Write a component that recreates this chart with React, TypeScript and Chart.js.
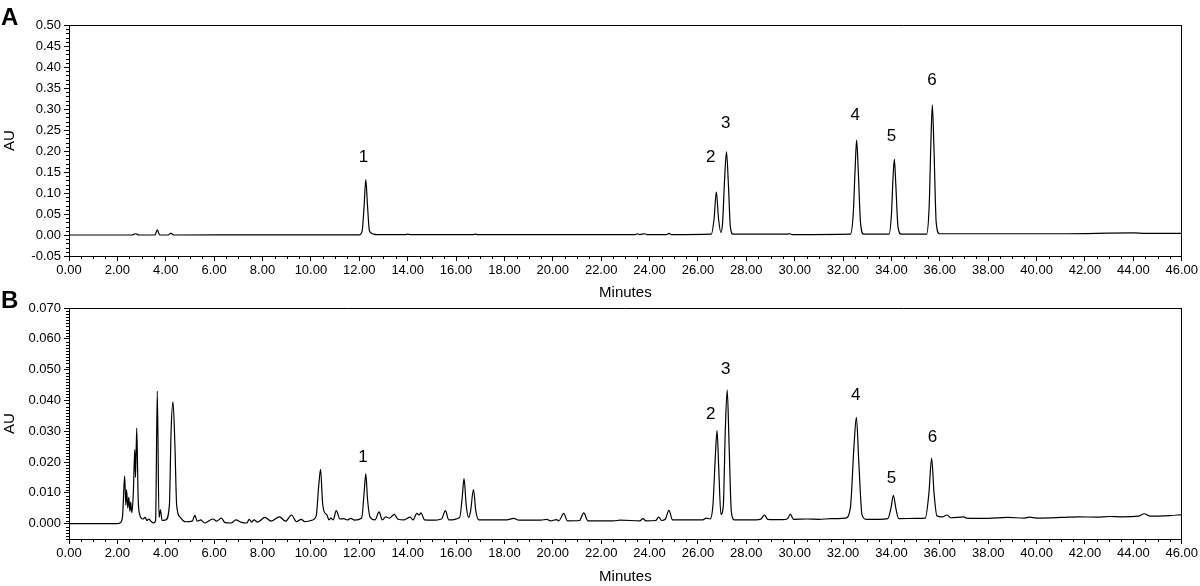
import React, { useEffect, useRef } from "react";
import { Chart, registerables } from "chart.js";

Chart.register(...registerables);

const FONT = "'Liberation Sans', Arial, Helvetica, sans-serif";

// ---- axis ticks ----
const xTickValues = [0, 2, 4, 6, 8, 10, 12, 14, 16, 18, 20, 22, 24, 26, 28, 30, 32, 34, 36, 38, 40, 42, 44, 46];
const yTicksA = [-0.05, 0, 0.05, 0.1, 0.15, 0.2, 0.25, 0.3, 0.35, 0.4, 0.45, 0.5];
const yTicksB = [0, 0.01, 0.02, 0.03, 0.04, 0.05, 0.06, 0.07];

// ---- chromatogram A (standards) ----
const timesA = [
  0, 2.6, 2.75, 2.9, 3.55, 3.65, 3.75, 4.1, 4.2, 4.35, 8, 12.0, 12.12, 12.2, 12.27, 12.34, 12.42, 12.55, 12.7,
  13.9, 14.0, 14.1, 16.7, 16.8, 16.9, 23.4, 23.5, 23.6, 23.8, 23.9, 24.7, 24.8, 24.9,
  26.55, 26.67, 26.76, 26.85, 26.95, 27.02, 27.1, 27.18, 27.26, 27.34, 27.45, 28.8, 29.7, 29.8, 29.9,
  32.3, 32.42, 32.5, 32.56, 32.63, 32.72, 32.85, 33.9, 34.0, 34.06, 34.12, 34.18, 34.27, 34.4,
  35.45, 35.56, 35.63, 35.69, 35.76, 35.85, 35.98, 40.5, 41, 44, 44.5, 46,
];
const auA = [
  0, 0, 0.003, 0, 0, 0.012, 0, 0, 0.004, 0, 0.0005, 0.0005, 0.01, 0.07, 0.132, 0.07, 0.01, 0.003, 0.001,
  0.001, 0.002, 0.001, 0.001, 0.002, 0.001, 0.001, 0.003, 0.001, 0.003, 0.001, 0.001, 0.004, 0.001,
  0.002, 0.04, 0.103, 0.04, 0.006, 0.03, 0.13, 0.198, 0.12, 0.02, 0.002, 0.002, 0.002, 0.003, 0.001,
  0.002, 0.05, 0.16, 0.226, 0.15, 0.03, 0.002, 0.002, 0.05, 0.13, 0.18, 0.12, 0.02, 0.002,
  0.002, 0.07, 0.22, 0.31, 0.2, 0.03, 0.003, 0.003, 0.003, 0.005, 0.004, 0.004,
];

// ---- chromatogram B (sample) ----
const timesB = [
  0, 2.0, 2.15, 2.22, 2.3, 2.35, 2.38, 2.43, 2.47, 2.52, 2.55, 2.6, 2.66, 2.72, 2.75, 2.8, 2.86, 2.92,
  3.05, 3.15, 3.22, 3.3, 3.38, 3.5, 3.58, 3.65, 3.72, 3.78, 3.85, 4.0, 4.15, 4.22, 4.3, 4.38, 4.45, 4.6, 4.8,
  5.1, 5.2, 5.3, 5.45, 5.6, 5.95, 6.1, 6.3, 6.45, 6.7, 6.9, 7.1, 7.35, 7.45, 7.55, 7.65, 7.8, 8.1, 8.35,
  8.7, 8.95, 9.2, 9.4, 9.6, 9.75, 10.0, 10.22, 10.32, 10.4, 10.48, 10.55, 10.65, 10.75, 10.82, 10.92,
  11.05, 11.2, 11.35, 11.5, 11.65, 11.8, 12.1, 12.2, 12.27, 12.34, 12.45, 12.65, 12.82, 12.95, 13.1,
  13.25, 13.45, 13.6, 13.85, 14.1, 14.22, 14.38, 14.48, 14.55, 14.7, 15.0, 15.4, 15.56, 15.7, 16.15,
  16.25, 16.33, 16.42, 16.52, 16.6, 16.72, 16.82, 16.95, 17.5, 18.1, 18.38, 18.6, 19.5, 19.75, 19.9,
  20.15, 20.25, 20.45, 20.6, 21.1, 21.28, 21.45, 22.5, 22.8, 23.6, 23.72, 23.85, 24.25, 24.38, 24.5,
  24.65, 24.8, 24.95, 26.2, 26.34, 26.5, 26.62, 26.72, 26.79, 26.86, 26.95, 27.05, 27.13, 27.21, 27.29,
  27.38, 27.5, 28.0, 28.5, 28.62, 28.75, 28.88, 29.5, 29.7, 29.82, 29.95, 30.5, 31.0, 31.5, 32.1, 32.3,
  32.45, 32.55, 32.65, 32.78, 32.95, 33.5, 33.85, 33.98, 34.08, 34.18, 34.3, 35.0, 35.4, 35.55, 35.66,
  35.76, 35.88, 36.1, 36.3, 36.45, 37.0, 37.1, 38.0, 38.8, 39.5, 39.7, 40.0, 41.0, 41.3, 41.7, 42.5,
  43.0, 43.5, 44.2, 44.45, 44.7, 45.5, 46.0,
];
const auB = [
  0, 0, 0.0005, 0.003, 0.0155, 0.006, 0.011, 0.005, 0.0085, 0.004, 0.007, 0.0035, 0.01, 0.024, 0.015, 0.031, 0.008, 0.003,
  0.0015, 0.002, 0.001, 0.0015, 0.0008, 0.0002, 0.001, 0.043, 0.002, 0.0045, 0.001, 0.0012, 0.006, 0.03, 0.0395, 0.025, 0.006, 0.002, 0.0006,
  0.0008, 0.0027, 0.0008, 0.0012, 0.0002, 0.0015, 0.0008, 0.0018, 0.0003, 0.0002, 0.0012, 0.0005, 0.0002, 0.0014, 0.0005, 0.0012, 0.0005, 0.002, 0.0008,
  0.0022, 0.0008, 0.0028, 0.0006, 0.0014, 0.0006, 0.001, 0.0025, 0.012, 0.0176, 0.007, 0.0038, 0.003, 0.0012, 0.0018, 0.0012,
  0.0042, 0.0015, 0.0016, 0.0012, 0.0017, 0.0011, 0.0018, 0.01, 0.0162, 0.008, 0.002, 0.0012, 0.0038, 0.0012, 0.0022,
  0.0018, 0.003, 0.0014, 0.0012, 0.0021, 0.0012, 0.0033, 0.0028, 0.0035, 0.0012, 0.0011, 0.0015, 0.0042, 0.0012, 0.002,
  0.008, 0.0146, 0.006, 0.002, 0.004, 0.011, 0.004, 0.0012, 0.0012, 0.0012, 0.0017, 0.0011, 0.0011, 0.0014, 0.0009,
  0.0013, 0.0009, 0.0033, 0.0009, 0.001, 0.0035, 0.0009, 0.0009, 0.0011, 0.0009, 0.0016, 0.0009, 0.001, 0.0021, 0.001,
  0.0014, 0.0043, 0.0012, 0.0012, 0.0018, 0.0015, 0.006, 0.022, 0.0302, 0.018, 0.003, 0.006, 0.03, 0.0434, 0.025,
  0.004, 0.0012, 0.0012, 0.0013, 0.0016, 0.0028, 0.0014, 0.0013, 0.0016, 0.0031, 0.0014, 0.0015, 0.0014, 0.0016, 0.0018, 0.005,
  0.025, 0.0345, 0.02, 0.003, 0.0014, 0.0014, 0.0016, 0.005, 0.0092, 0.005, 0.0016, 0.0017, 0.0018, 0.01, 0.0213,
  0.01, 0.0025, 0.0022, 0.0028, 0.0019, 0.0022, 0.0018, 0.0017, 0.002, 0.0018, 0.0021, 0.0018, 0.002, 0.0021, 0.0022, 0.0021,
  0.0023, 0.0022, 0.0024, 0.0032, 0.0024, 0.0026, 0.0029,
];

// ---- peak annotations ----
const peakIds = ["1", "2", "3", "4", "5", "6"];
const peakLabelXA = [12.17, 26.53, 27.15, 32.5, 34.0, 35.68];
const peakLabelYA = [0.186, 0.184, 0.267, 0.284, 0.234, 0.369];
const peakLabelXB = [12.15, 26.53, 27.15, 32.52, 34.0, 35.7];
const peakLabelYB = [0.0216, 0.0356, 0.05, 0.0415, 0.0148, 0.0281];

type PanelCfg = {
  letter: string;
  letterY: number;
  times: number[];
  values: number[];
  yTicks: number[];
  yMin: number;
  yMax: number;
  yMinorStep: number;
  yDecimals: number;
  labelX: number[];
  labelY: number[];
  padTop: number;
  xAxisHeight: number;
  titlePadBottom: number;
};

function decorPlugin(cfg: PanelCfg) {
  return {
    id: "decor" + cfg.letter,
    afterDraw(chart: any) {
      const ctx = chart.ctx as CanvasRenderingContext2D;
      const { left, right, top, bottom } = chart.chartArea;
      const xs = chart.scales.x;
      const ys = chart.scales.y;
      ctx.save();
      ctx.strokeStyle = "#000";
      ctx.lineWidth = 1;
      ctx.beginPath();
      // frame top and right
      ctx.moveTo(left, Math.round(top) + 0.5);
      ctx.lineTo(right, Math.round(top) + 0.5);
      ctx.moveTo(Math.round(right) - 0.5, top);
      ctx.lineTo(Math.round(right) - 0.5, bottom);
      // minor x ticks every 0.5 min
      for (let i = 0; i <= 92; i++) {
        const v = i * 0.5;
        if (i % 4 === 0) continue;
        const px = Math.round(xs.getPixelForValue(v)) + 0.5;
        ctx.moveTo(px, bottom);
        ctx.lineTo(px, bottom + 3);
      }
      // minor y ticks
      const n = Math.round((cfg.yMax - cfg.yMin) / cfg.yMinorStep);
      for (let i = 0; i <= n; i++) {
        const v = cfg.yMin + i * cfg.yMinorStep;
        const isMajor = cfg.yTicks.some((t) => Math.abs(t - v) < cfg.yMinorStep / 10);
        if (isMajor) continue;
        const py = Math.round(ys.getPixelForValue(v)) + 0.5;
        ctx.moveTo(left - 3, py);
        ctx.lineTo(left, py);
      }
      ctx.stroke();

      // peak numbers
      ctx.fillStyle = "#000";
      ctx.font = `17px ${FONT}`;
      ctx.textAlign = "center";
      ctx.textBaseline = "middle";
      peakIds.forEach((id, i) => {
        ctx.fillText(id, xs.getPixelForValue(cfg.labelX[i]), ys.getPixelForValue(cfg.labelY[i]));
      });

      // panel letter
      ctx.font = `bold 24px ${FONT}`;
      ctx.textAlign = "left";
      ctx.textBaseline = "alphabetic";
      ctx.fillText(cfg.letter, 1, cfg.letterY);
      ctx.restore();
    },
  };
}

function Panel({ cfg, top, height }: { cfg: PanelCfg; top: number; height: number }) {
  const ref = useRef<HTMLCanvasElement | null>(null);
  useEffect(() => {
    if (!ref.current) return;
    const data = cfg.times.map((t, i) => ({ x: t, y: cfg.values[i] }));
    const chart = new Chart(ref.current, {
      type: "line",
      data: {
        datasets: [
          {
            data,
            borderColor: "#000",
            borderWidth: 1.2,
            pointRadius: 0,
            cubicInterpolationMode: "monotone",
            fill: false,
          },
        ],
      },
      options: {
        responsive: false,
        animation: false,
        maintainAspectRatio: false,
        layout: { padding: { left: 0, right: 16, top: cfg.padTop, bottom: 0 } },
        plugins: { legend: { display: false }, tooltip: { enabled: false } },
        scales: {
          x: {
            type: "linear",
            min: 0,
            max: 46,
            afterFit: (s: any) => {
              s.height = cfg.xAxisHeight;
            },
            afterBuildTicks: (s: any) => {
              s.ticks = xTickValues.map((v) => ({ value: v }));
            },
            grid: { drawOnChartArea: false, drawTicks: true, tickLength: 5, color: "#000" },
            border: { display: true, color: "#000", width: 1 },
            ticks: {
              callback: (v: any) => Number(v).toFixed(2),
              font: { family: FONT, size: 13 },
              color: "#000",
              padding: 2,
              maxRotation: 0,
              autoSkip: false,
            },
            title: {
              display: true,
              text: "Minutes",
              color: "#000",
              font: { family: FONT, size: 15, lineHeight: 1 },
              padding: { top: 0, bottom: cfg.titlePadBottom },
            },
          },
          y: {
            type: "linear",
            min: cfg.yMin,
            max: cfg.yMax,
            afterFit: (s: any) => {
              s.width = 69;
            },
            afterBuildTicks: (s: any) => {
              s.ticks = cfg.yTicks.map((v) => ({ value: v }));
            },
            grid: { drawOnChartArea: false, drawTicks: true, tickLength: 5, color: "#000" },
            border: { display: true, color: "#000", width: 1 },
            ticks: {
              callback: (v: any) => Number(v).toFixed(cfg.yDecimals),
              font: { family: FONT, size: 13 },
              color: "#000",
              padding: 3,
              autoSkip: false,
            },
            title: {
              display: true,
              text: "AU",
              color: "#000",
              font: { family: FONT, size: 15, lineHeight: 1 },
              padding: { top: 2, bottom: 0 },
            },
          },
        },
      } as any,
      plugins: [decorPlugin(cfg)],
    });
    return () => chart.destroy();
  }, [cfg]);
  return (
    <canvas
      ref={ref}
      width={1200}
      height={height}
      style={{ position: "absolute", left: 0, top, width: 1200, height }}
    />
  );
}

const cfgA: PanelCfg = {
  letter: "A",
  letterY: 25,
  times: timesA,
  values: auA,
  yTicks: yTicksA,
  yMin: -0.05,
  yMax: 0.5,
  yMinorStep: 0.01,
  yDecimals: 2,
  labelX: peakLabelXA,
  labelY: peakLabelYA,
  padTop: 25,
  xAxisHeight: 44,
  titlePadBottom: 0,
};

const cfgB: PanelCfg = {
  letter: "B",
  letterY: 28,
  times: timesB,
  values: auB,
  yTicks: yTicksB,
  yMin: -0.005,
  yMax: 0.07,
  yMinorStep: 0.001,
  yDecimals: 3,
  labelX: peakLabelXB,
  labelY: peakLabelYB,
  padTop: 28,
  xAxisHeight: 47,
  titlePadBottom: 2,
};

export default function App() {
  return (
    <div style={{ position: "absolute", left: 0, top: 0, width: 1200, height: 586, background: "#fff" }}>
      <Panel cfg={cfgA} top={0} height={300} />
      <Panel cfg={cfgB} top={280} height={306} />
    </div>
  );
}
